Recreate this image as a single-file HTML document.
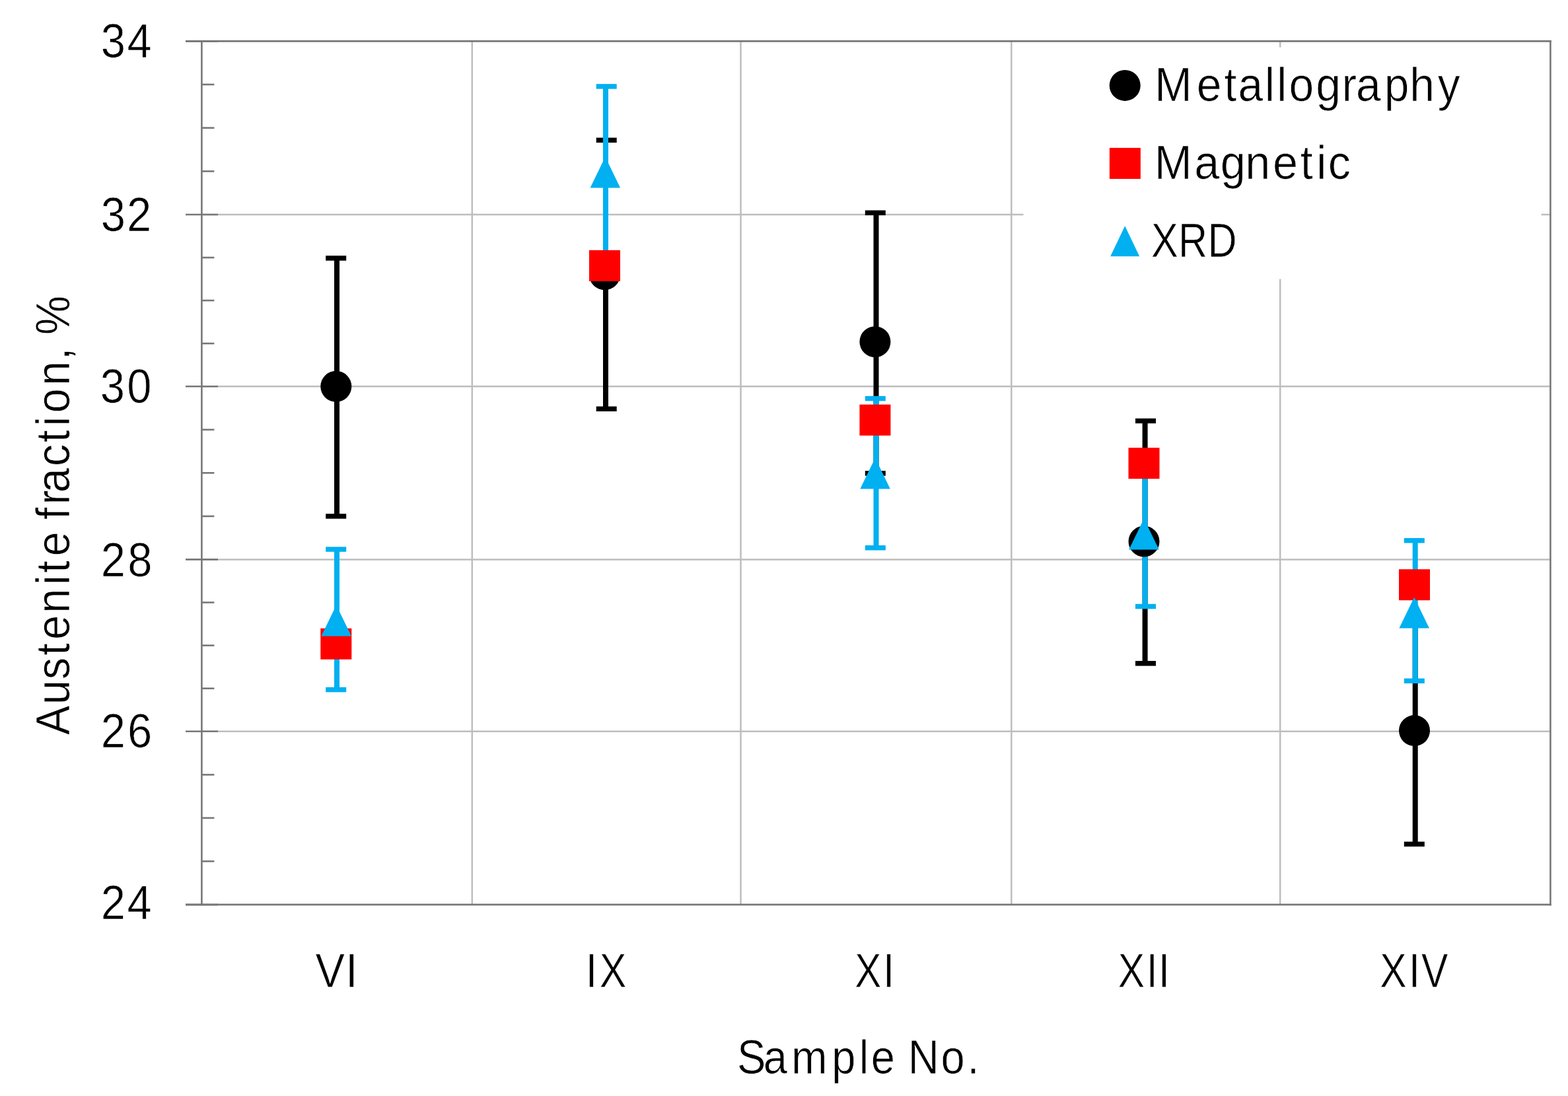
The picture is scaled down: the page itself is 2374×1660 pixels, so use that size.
<!DOCTYPE html>
<html><head><meta charset="utf-8"><title>Austenite fraction chart</title>
<style>
html,body{margin:0;padding:0;background:#fff;}
body{width:2374px;height:1660px;overflow:hidden;}
svg{display:block;}
</style></head><body>
<svg width="2374" height="1660" viewBox="0 0 2374 1660">
<rect x="0" y="0" width="2374" height="1660" fill="#ffffff"/>
<line x1="305.4" y1="325.0" x2="2347.4" y2="325.0" stroke="#bdbdbd" stroke-width="2.5"/>
<line x1="305.4" y1="585.3" x2="2347.4" y2="585.3" stroke="#bdbdbd" stroke-width="2.5"/>
<line x1="305.4" y1="847.4" x2="2347.4" y2="847.4" stroke="#bdbdbd" stroke-width="2.5"/>
<line x1="305.4" y1="1107.8" x2="2347.4" y2="1107.8" stroke="#bdbdbd" stroke-width="2.5"/>
<line x1="714.8" y1="62.4" x2="714.8" y2="1370.1" stroke="#bdbdbd" stroke-width="2.5"/>
<line x1="1121.5" y1="62.4" x2="1121.5" y2="1370.1" stroke="#bdbdbd" stroke-width="2.5"/>
<line x1="1531.3" y1="62.4" x2="1531.3" y2="1370.1" stroke="#bdbdbd" stroke-width="2.5"/>
<line x1="1938.2" y1="62.4" x2="1938.2" y2="1370.1" stroke="#bdbdbd" stroke-width="2.5"/>
<rect x="1549.5" y="71.6" width="784" height="351" fill="#ffffff"/>
<line x1="305.4" y1="1304.5" x2="324.4" y2="1304.5" stroke="#777777" stroke-width="2.6"/>
<line x1="305.4" y1="1238.9" x2="324.4" y2="1238.9" stroke="#777777" stroke-width="2.6"/>
<line x1="305.4" y1="1173.4" x2="324.4" y2="1173.4" stroke="#777777" stroke-width="2.6"/>
<line x1="305.4" y1="1042.7" x2="324.4" y2="1042.7" stroke="#777777" stroke-width="2.6"/>
<line x1="305.4" y1="977.6" x2="324.4" y2="977.6" stroke="#777777" stroke-width="2.6"/>
<line x1="305.4" y1="912.5" x2="324.4" y2="912.5" stroke="#777777" stroke-width="2.6"/>
<line x1="305.4" y1="781.9" x2="324.4" y2="781.9" stroke="#777777" stroke-width="2.6"/>
<line x1="305.4" y1="716.3" x2="324.4" y2="716.3" stroke="#777777" stroke-width="2.6"/>
<line x1="305.4" y1="650.8" x2="324.4" y2="650.8" stroke="#777777" stroke-width="2.6"/>
<line x1="305.4" y1="520.2" x2="324.4" y2="520.2" stroke="#777777" stroke-width="2.6"/>
<line x1="305.4" y1="455.1" x2="324.4" y2="455.1" stroke="#777777" stroke-width="2.6"/>
<line x1="305.4" y1="390.1" x2="324.4" y2="390.1" stroke="#777777" stroke-width="2.6"/>
<line x1="305.4" y1="259.4" x2="324.4" y2="259.4" stroke="#777777" stroke-width="2.6"/>
<line x1="305.4" y1="193.7" x2="324.4" y2="193.7" stroke="#777777" stroke-width="2.6"/>
<line x1="305.4" y1="128.0" x2="324.4" y2="128.0" stroke="#777777" stroke-width="2.6"/>
<line x1="281" y1="62.4" x2="330" y2="62.4" stroke="#777777" stroke-width="2.6"/>
<line x1="281" y1="325.0" x2="330" y2="325.0" stroke="#777777" stroke-width="2.6"/>
<line x1="281" y1="585.3" x2="330" y2="585.3" stroke="#777777" stroke-width="2.6"/>
<line x1="281" y1="847.4" x2="330" y2="847.4" stroke="#777777" stroke-width="2.6"/>
<line x1="281" y1="1107.8" x2="330" y2="1107.8" stroke="#777777" stroke-width="2.6"/>
<line x1="281" y1="1370.1" x2="330" y2="1370.1" stroke="#777777" stroke-width="2.6"/>
<line x1="281" y1="62.4" x2="2348.7000000000003" y2="62.4" stroke="#777777" stroke-width="2.6"/>
<line x1="281" y1="1370.1" x2="2348.7000000000003" y2="1370.1" stroke="#777777" stroke-width="2.6"/>
<line x1="305.4" y1="61.1" x2="305.4" y2="1371.3999999999999" stroke="#777777" stroke-width="2.6"/>
<line x1="2347.4" y1="61.1" x2="2347.4" y2="1371.3999999999999" stroke="#777777" stroke-width="2.6"/>
<line x1="510.0" y1="391.0" x2="510.0" y2="781.9" stroke="#000000" stroke-width="8.0"/><line x1="493.2" y1="391.0" x2="524.2" y2="391.0" stroke="#000000" stroke-width="7.5"/><line x1="493.2" y1="781.9" x2="524.2" y2="781.9" stroke="#000000" stroke-width="7.5"/>
<line x1="917.0" y1="212.3" x2="917.0" y2="619.3" stroke="#000000" stroke-width="8.0"/><line x1="902.7" y1="212.3" x2="933.7" y2="212.3" stroke="#000000" stroke-width="7.5"/><line x1="902.7" y1="619.3" x2="933.7" y2="619.3" stroke="#000000" stroke-width="7.5"/>
<line x1="1326.5" y1="322.3" x2="1326.5" y2="716.9" stroke="#000000" stroke-width="8.0"/><line x1="1309.8" y1="322.3" x2="1340.8" y2="322.3" stroke="#000000" stroke-width="7.5"/><line x1="1309.8" y1="716.9" x2="1340.8" y2="716.9" stroke="#000000" stroke-width="7.5"/>
<line x1="1733.6" y1="637.5" x2="1733.6" y2="1004.8" stroke="#000000" stroke-width="8.0"/><line x1="1719.0" y1="637.5" x2="1750.0" y2="637.5" stroke="#000000" stroke-width="7.5"/><line x1="1719.0" y1="1004.8" x2="1750.0" y2="1004.8" stroke="#000000" stroke-width="7.5"/>
<line x1="2142.7" y1="941.0" x2="2142.7" y2="1278.5" stroke="#000000" stroke-width="8.0"/><line x1="2125.8" y1="941.0" x2="2156.8" y2="941.0" stroke="#000000" stroke-width="7.5"/><line x1="2125.8" y1="1278.5" x2="2156.8" y2="1278.5" stroke="#000000" stroke-width="7.5"/>
<line x1="510.0" y1="832.0" x2="510.0" y2="1044.6" stroke="#00b0f0" stroke-width="8.0"/><line x1="493.2" y1="832.0" x2="524.2" y2="832.0" stroke="#00b0f0" stroke-width="7.5"/><line x1="493.2" y1="1044.6" x2="524.2" y2="1044.6" stroke="#00b0f0" stroke-width="7.5"/>
<line x1="917.0" y1="130.9" x2="917.0" y2="392.0" stroke="#00b0f0" stroke-width="8.0"/><line x1="902.7" y1="130.9" x2="933.7" y2="130.9" stroke="#00b0f0" stroke-width="7.5"/><line x1="902.7" y1="392.0" x2="933.7" y2="392.0" stroke="#00b0f0" stroke-width="7.5"/>
<line x1="1326.5" y1="603.6" x2="1326.5" y2="829.7" stroke="#00b0f0" stroke-width="8.0"/><line x1="1309.8" y1="603.6" x2="1340.8" y2="603.6" stroke="#00b0f0" stroke-width="7.5"/><line x1="1309.8" y1="829.7" x2="1340.8" y2="829.7" stroke="#00b0f0" stroke-width="7.5"/>
<line x1="1733.6" y1="703.0" x2="1733.6" y2="918.5" stroke="#00b0f0" stroke-width="8.0"/><line x1="1719.0" y1="703.0" x2="1750.0" y2="703.0" stroke="#00b0f0" stroke-width="7.5"/><line x1="1719.0" y1="918.5" x2="1750.0" y2="918.5" stroke="#00b0f0" stroke-width="7.5"/>
<line x1="2142.7" y1="818.7" x2="2142.7" y2="1031.3" stroke="#00b0f0" stroke-width="8.0"/><line x1="2125.8" y1="818.7" x2="2156.8" y2="818.7" stroke="#00b0f0" stroke-width="7.5"/><line x1="2125.8" y1="1031.3" x2="2156.8" y2="1031.3" stroke="#00b0f0" stroke-width="7.5"/>
<circle cx="508.8" cy="585.3" r="23.5" fill="#000000"/>
<circle cx="915.5" cy="415.9" r="23.5" fill="#000000"/>
<circle cx="1324.9" cy="517.7" r="23.5" fill="#000000"/>
<circle cx="1732.0" cy="820.0" r="23.5" fill="#000000"/>
<circle cx="2141.5" cy="1106.6" r="23.5" fill="#000000"/>
<rect x="485.3" y="951.7" width="47.0" height="47.0" fill="#ff0000"/>
<rect x="892.0" y="378.9" width="47.0" height="47.0" fill="#ff0000"/>
<rect x="1301.4" y="612.7" width="47.0" height="47.0" fill="#ff0000"/>
<rect x="1708.5" y="678.2" width="47.0" height="47.0" fill="#ff0000"/>
<rect x="2118.0" y="862.2" width="47.0" height="47.0" fill="#ff0000"/>
<polygon points="509.2,916.5 532.0,963.5 486.4,963.5" fill="#00b0f0"/>
<polygon points="916.4,237.5 939.1,284.5 893.6,284.5" fill="#00b0f0"/>
<polygon points="1325.1,693.5 1347.8,740.5 1302.3,740.5" fill="#00b0f0"/>
<polygon points="1732.0,785.5 1754.8,832.5 1709.2,832.5" fill="#00b0f0"/>
<polygon points="2141.2,904.5 2163.9,951.5 2118.4,951.5" fill="#00b0f0"/>
<text transform="scale(0.9300 1)" x="164.28 206.87" y="87.45" font-family='"Liberation Sans", Arial, sans-serif' font-size="72" fill="#000000" stroke="#ffffff" stroke-width="0.7">34</text>
<text transform="scale(0.9300 1)" x="164.38 206.48" y="349.60" font-family='"Liberation Sans", Arial, sans-serif' font-size="72" fill="#000000" stroke="#ffffff" stroke-width="0.7">32</text>
<text transform="scale(0.9300 1)" x="163.31 206.65" y="609.55" font-family='"Liberation Sans", Arial, sans-serif' font-size="72" fill="#000000" stroke="#ffffff" stroke-width="0.7">30</text>
<text transform="scale(0.9300 1)" x="164.33 207.94" y="872.55" font-family='"Liberation Sans", Arial, sans-serif' font-size="72" fill="#000000" stroke="#ffffff" stroke-width="0.7">28</text>
<text transform="scale(0.9300 1)" x="164.33 207.58" y="1132.45" font-family='"Liberation Sans", Arial, sans-serif' font-size="72" fill="#000000" stroke="#ffffff" stroke-width="0.7">26</text>
<text transform="scale(0.9300 1)" x="164.33 206.98" y="1392.40" font-family='"Liberation Sans", Arial, sans-serif' font-size="72" fill="#000000" stroke="#ffffff" stroke-width="0.7">24</text>
<text transform="scale(0.9266 1)" x="515.24 564.43" y="1494.9" font-family='"Liberation Sans", Arial, sans-serif' font-size="72" fill="#000000" stroke="#ffffff" stroke-width="0.7">VI</text>
<text transform="scale(0.8472 1)" x="1046.93 1071.35" y="1494.9" font-family='"Liberation Sans", Arial, sans-serif' font-size="72" fill="#000000" stroke="#ffffff" stroke-width="0.7">IX</text>
<text transform="scale(0.8345 1)" x="1551.01 1602.40" y="1494.9" font-family='"Liberation Sans", Arial, sans-serif' font-size="72" fill="#000000" stroke="#ffffff" stroke-width="0.7">XI</text>
<text transform="scale(0.8416 1)" x="2011.40 2062.48 2083.99" y="1494.9" font-family='"Liberation Sans", Arial, sans-serif' font-size="72" fill="#000000" stroke="#ffffff" stroke-width="0.7">XII</text>
<text transform="scale(0.8408 1)" x="2484.96 2536.78 2559.59" y="1494.9" font-family='"Liberation Sans", Arial, sans-serif' font-size="72" fill="#000000" stroke="#ffffff" stroke-width="0.7">XIV</text>
<text transform="scale(0.9035 1)" x="1235.22 1279.33 1326.11 1393.62 1439.64 1459.69 1499.73 1521.59 1576.78 1621.06" y="1626.0" font-family='"Liberation Sans", Arial, sans-serif' font-size="72" fill="#000000" stroke="#ffffff" stroke-width="0.7">Sample No.</text>
<g transform="rotate(-90)"><text transform="scale(0.9294 1)" x="-1197.85 -1148.30 -1107.46 -1068.08 -1042.68 -999.22 -953.19 -933.54 -906.57 -866.53 -846.72 -822.56 -802.95 -759.84 -720.94 -694.53 -673.06 -628.35 -586.70 -566.70 -545.87" y="104.6" font-family='"Liberation Sans", Arial, sans-serif' font-size="72" fill="#000000" stroke="#ffffff" stroke-width="0.7">Austenite fraction, %</text></g>
<circle cx="1703.2" cy="129.4" r="23.5" fill="#000000"/>
<rect x="1679.85" y="223.95" width="47.0" height="47.0" fill="#ff0000"/>
<polygon points="1703.2,342.2 1725.2,388.2 1681.2,388.2" fill="#00b0f0"/>
<text transform="scale(0.9406 1)" x="1858.70 1926.20 1970.53 1992.80 2035.63 2055.40 2074.86 2118.15 2159.78 2182.57 2228.11 2269.16 2314.11" y="153.0" font-family='"Liberation Sans", Arial, sans-serif' font-size="72" fill="#000000" stroke="#ffffff" stroke-width="0.7">Metallography</text>
<text transform="scale(0.9499 1)" x="1839.90 1903.71 1945.31 1984.77 2028.58 2072.51 2098.45 2116.85" y="271.0" font-family='"Liberation Sans", Arial, sans-serif' font-size="72" fill="#000000" stroke="#ffffff" stroke-width="0.7">Magnetic</text>
<text transform="scale(0.8485 1)" x="2054.15 2102.49 2154.93" y="389.2" font-family='"Liberation Sans", Arial, sans-serif' font-size="72" fill="#000000" stroke="#ffffff" stroke-width="0.7">XRD</text>
</svg>
</body></html>
